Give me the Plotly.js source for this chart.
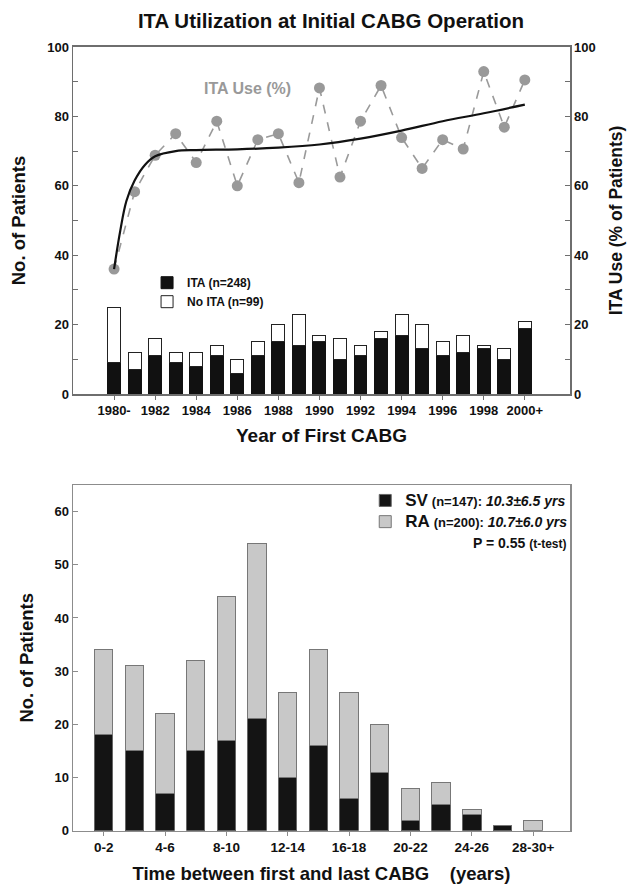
<!DOCTYPE html>
<html><head><meta charset="utf-8">
<script src="https://cdn.plot.ly/plotly-3.0.1.min.js"></script>
<style>html,body{margin:0;padding:0;background:#fff}</style>
</head><body><div id="chart" style="width:634px;height:888px"></div>
<script>
// ---- Top chart data ----
const years = [1980,1981,1982,1983,1984,1985,1986,1987,1988,1989,1990,1991,1992,1993,1994,1995,1996,1997,1998,1999,2000];
const yearTickVals = [1980,1982,1984,1986,1988,1990,1992,1994,1996,1998,2000];
const yearTickText = ['1980-','1982','1984','1986','1988','1990','1992','1994','1996','1998','2000+'];
const itaCounts   = [9,7,11,9,8,11,6,11,15,14,15,10,11,16,17,13,11,12,13,10,19];
const noItaCounts = [16,5,5,3,4,3,4,4,5,9,2,6,3,2,6,7,4,5,1,3,2];
const itaUsePct   = [36,58.3,68.8,75,66.7,78.6,60,73.3,75,60.9,88.2,62.5,78.6,88.9,73.9,65,73.3,70.6,92.9,76.9,90.5];
const trendYears  = [1980,1980.3,1980.6,1981,1981.5,1982,1983,1984,1986,1988,1990,1992,1994,1996,1998,2000];
const trendPct    = [36,47,55.6,61.5,66,68.5,70,70.3,70.5,71,71.9,73.6,75.9,78.6,80.9,83.4];

// ---- Bottom chart data ----
const intervals = ['0-2','2-4','4-6','6-8','8-10','10-12','12-14','14-16','16-18','18-20','20-22','22-24','24-26','26-28','28-30+'];
const intervalTicks = ['0-2','4-6','8-10','12-14','16-18','20-22','24-26','28-30+'];
const svCounts = [18,15,7,15,17,21,10,16,6,11,2,5,3,1,0];
const raCounts = [16,16,15,17,27,33,16,18,20,9,6,4,1,0,2];

const FONT = 'Liberation Sans, Arial, Helvetica, sans-serif';
const bold = (size, color) => ({family: FONT, size: size, color: color || '#111', weight: 'bold'});
const frame = '#6e6e6e';
const frame2 = '#8c8c8c';

const traces = [
  {type:'bar', x: years, y: itaCounts, name: 'ITA (n=248)', xaxis:'x', yaxis:'y', width:0.63,
   marker:{color:'#111', line:{color:'#111', width:1}}, legend:'legend', hoverinfo:'skip'},
  {type:'bar', x: years, y: noItaCounts, name: 'No ITA (n=99)', xaxis:'x', yaxis:'y', width:0.63,
   marker:{color:'#fff', line:{color:'#222', width:1}}, legend:'legend', hoverinfo:'skip'},
  {type:'scatter', mode:'lines+markers', x: years, y: itaUsePct, xaxis:'x', yaxis:'y2', showlegend:false,
   line:{color:'#9a9a9a', width:1.6, dash:'dash'}, marker:{color:'#999', size:11}, hoverinfo:'skip'},
  {type:'scatter', mode:'lines', x: trendYears, y: trendPct, xaxis:'x', yaxis:'y2', showlegend:false,
   line:{color:'#111', width:2.2, shape:'spline', smoothing:1}, hoverinfo:'skip'},
  {type:'bar', x: intervals, y: svCounts, name: '<span style="font-size:17px">SV</span> <span style="font-size:13px">(n=147):</span> <i>10.3±6.5 yrs</i>',
   xaxis:'x2', yaxis:'y3', width:0.6, marker:{color:'#141414', line:{color:'#666', width:1}}, legend:'legend2', hoverinfo:'skip'},
  {type:'bar', x: intervals, y: raCounts, name: '<span style="font-size:17px">RA</span> <span style="font-size:13px">(n=200):</span> <i>10.7±6.0 yrs</i>',
   xaxis:'x2', yaxis:'y3', width:0.6, marker:{color:'#c8c8c8', line:{color:'#777', width:1}}, legend:'legend2', hoverinfo:'skip'}
];

const layout = {
  width:634, height:888, margin:{l:73, r:64, t:0, b:0},
  paper_bgcolor:'#fff', plot_bgcolor:'#fff', barmode:'stack', showlegend:true,
  font: bold(13),
  title:{text:'ITA Utilization at Initial CABG Operation', font:bold(20.5), x:0.522, xref:'container', y:0.977, yref:'container', yanchor:'middle'},
  xaxis:{domain:[0,1], anchor:'y', range:[1978,2002.2], tickmode:'array', tickvals:yearTickVals, ticktext:yearTickText,
    ticks:'outside', ticklen:4, tickcolor:frame, showline:true, linecolor:frame, linewidth:1.5, mirror:true, showgrid:false, zeroline:false,
    tickfont:bold(13), title:{text:'Year of First CABG', font:bold(19), standoff:11}},
  yaxis:{domain:[0.5563,0.9471], anchor:'x', range:[0,100], dtick:20, ticks:'inside', ticklen:5, tickcolor:frame,
    minor:{dtick:10, ticks:'inside', ticklen:5, tickcolor:frame},
    showline:true, linecolor:frame, linewidth:1.5, showgrid:false, zeroline:false, tickfont:bold(13),
    title:{text:'No. of Patients', font:bold(18.5), standoff:16}},
  yaxis2:{overlaying:'y', side:'right', anchor:'x', range:[0,100], dtick:20, ticks:'inside', ticklen:5, tickcolor:frame,
    minor:{dtick:10, ticks:'inside', ticklen:5, tickcolor:frame},
    showline:true, linecolor:frame, linewidth:1.5, showgrid:false, zeroline:false, tickfont:bold(13),
    title:{text:'ITA Use (% of Patients)', font:bold(17.5), standoff:15}},
  xaxis2:{type:'category', domain:[0,1], anchor:'y3', range:[-1,15.2], tickmode:'array', tickvals:intervalTicks, ticktext:intervalTicks,
    ticks:'outside', ticklen:4, tickcolor:frame2, showline:true, linecolor:frame2, linewidth:1.5, mirror:true, showgrid:false, zeroline:false,
    tickfont:bold(13.5), title:{text:'Time between first and last CABG&nbsp;&nbsp;&nbsp;&nbsp;(years)', font:bold(18.5), standoff:12}},
  yaxis3:{domain:[0.0646,0.4538], anchor:'x2', range:[0,65], dtick:10, ticks:'inside', ticklen:5, tickcolor:frame2,
    showline:true, linecolor:frame2, linewidth:1.5, mirror:true, showgrid:false, zeroline:false, tickfont:bold(13),
    title:{text:'No. of Patients', font:bold(18.5), standoff:16}},
  legend:{x:0.149, y:0.698, xanchor:'left', yanchor:'top', bgcolor:'rgba(0,0,0,0)', font:bold(12), traceorder:'normal',
    itemwidth:30, tracegroupgap:0},
  legend2:{x:0.588, y:0.454, xanchor:'left', yanchor:'top', bgcolor:'rgba(0,0,0,0)', font:bold(14), traceorder:'normal',
    itemwidth:30, tracegroupgap:0},
  annotations:[
    {text:'ITA Use (%)', xref:'x', yref:'y2', x:1986.5, y:88, showarrow:false, font:bold(16,'#999')},
    {text:'P = 0.55 <span style="font-size:12px">(t-test)</span>', xref:'paper', yref:'paper', x:0.997, xanchor:'right',
     y:1-543/888, yanchor:'middle', showarrow:false, font:bold(14)}
  ]
};

Plotly.newPlot('chart', traces, layout, {displayModeBar:false, staticPlot:true});
</script></body></html>
